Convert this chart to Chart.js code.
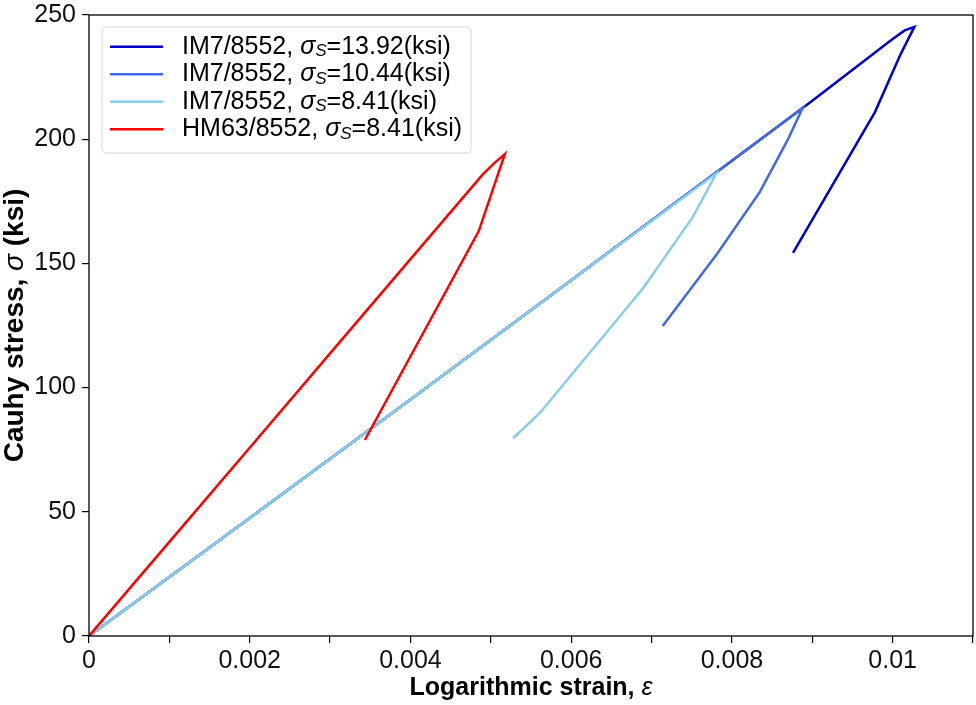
<!DOCTYPE html>
<html>
<head>
<meta charset="utf-8">
<script src="https://cdn.jsdelivr.net/npm/chart.js@4.4.1/dist/chart.umd.min.js"></script>
<style>
  html, body { margin: 0; padding: 0; background: #ffffff; }
  #wrap { width: 976px; height: 705px; }
</style>
</head>
<body>
<div id="wrap"><canvas id="c" width="976" height="705"></canvas></div>
<script>
// Stress-strain loading / unloading paths (strain, Cauhy stress in ksi)
const materials = ['IM7/8552', 'IM7/8552', 'IM7/8552', 'HM63/8552'];
const sigmaS = ['13.92', '10.44', '8.41', '8.41'];
const colors = ['#0000CD', '#4169E1', '#87CEEB', '#FF0000'];

const im7HighStrain = [0, 0.002, 0.004, 0.006, 0.008, 0.009, 0.0100, 0.01015, 0.01027, 0.01009, 0.00978, 0.00876];
const im7HighStress = [0, 47.5, 95.2, 143.2, 191.3, 215.5, 240.3, 243.8, 245.2, 233.6, 210.9, 154.2];

const im7MidStrain = [0, 0.002, 0.004, 0.006, 0.008, 0.00888, 0.008694, 0.008346, 0.007823, 0.007139];
const im7MidStress = [0, 47.5, 95.2, 143.2, 191.3, 212.6, 199.7, 178.7, 154.2, 124.8];

const im7LowStrain = [0, 0.002, 0.004, 0.006, 0.007807, 0.007516, 0.006894, 0.00561, 0.005277];
const im7LowStress = [0, 47.5, 95.2, 143.2, 186.3, 168.8, 140.0, 89.8, 79.6];

const hm63Strain = [0, 0.001, 0.002, 0.003, 0.004, 0.0049, 0.00505, 0.005174, 0.00485, 0.003433];
const hm63Stress = [0, 37.9, 75.8, 113.8, 151.7, 185.8, 190.6, 194.0, 163.0, 78.9];

// Axis ranges and tick steps
const xMin = 0, xMax = 0.011, xStep = 0.001;
const yMin = 0, yMax = 250, yStep = 50;

function toPoints(xs, ys) {
  return xs.map((x, i) => ({ x: x, y: ys[i] }));
}

const series = [
  [im7HighStrain, im7HighStress],
  [im7MidStrain, im7MidStress],
  [im7LowStrain, im7LowStress],
  [hm63Strain, hm63Stress]
];

const datasets = series.map((s, i) => ({
  label: materials[i] + ', σS=' + sigmaS[i] + '(ksi)',
  data: toPoints(s[0], s[1]),
  borderColor: colors[i],
  backgroundColor: colors[i],
  borderWidth: 2.5,
  showLine: true,
  pointRadius: 0,
  tension: 0,
  fill: false,
  order: series.length - i
}));

const FONT = '"Liberation Sans", Arial, Helvetica, sans-serif';

// draws a run of differently styled text pieces starting at x
function drawRuns(ctx, x, y, runs) {
  let cx = x;
  runs.forEach(r => {
    ctx.font = r.font;
    ctx.fillText(r.text, cx, y + (r.dy || 0));
    cx += ctx.measureText(r.text).width;
  });
  return cx;
}
function runsWidth(ctx, runs) {
  let w = 0;
  runs.forEach(r => { ctx.font = r.font; w += ctx.measureText(r.text).width; });
  return w;
}

const framePlugin = {
  id: 'frame',
  afterDatasetsDraw(chart) {
    const ctx = chart.ctx, a = chart.chartArea;
    ctx.save();
    ctx.strokeStyle = '#000';
    ctx.lineWidth = 1.3;
    ctx.strokeRect(a.left, a.top, a.right - a.left, a.bottom - a.top);
    ctx.restore();
  }
};

const titlesPlugin = {
  id: 'axisTitles',
  afterDraw(chart) {
    const ctx = chart.ctx, a = chart.chartArea;
    ctx.save();
    ctx.fillStyle = '#000';
    ctx.textBaseline = 'middle';
    // x title
    const xr = [
      { text: 'Logarithmic strain, ', font: 'bold 25px ' + FONT },
      { text: 'ε', font: 'italic 25px ' + FONT }
    ];
    const xw = runsWidth(ctx, xr);
    drawRuns(ctx, (a.left + a.right) / 2 - xw / 2, 688, xr);
    // y title
    const yr = [
      { text: 'Cauhy stress, ', font: 'bold 28px ' + FONT },
      { text: 'σ', font: 'italic 28px ' + FONT },
      { text: ' (ksi)', font: 'bold 28px ' + FONT }
    ];
    const yw = runsWidth(ctx, yr);
    ctx.translate(15, (a.top + a.bottom) / 2);
    ctx.rotate(-Math.PI / 2);
    drawRuns(ctx, -yw / 2, 0, yr);
    ctx.restore();
  }
};

const legendPlugin = {
  id: 'richLegend',
  afterDraw(chart) {
    const ctx = chart.ctx;
    const bx = 102, by = 27, bw = 369, bh = 126, r = 4;
    ctx.save();
    ctx.beginPath();
    ctx.moveTo(bx + r, by);
    ctx.arcTo(bx + bw, by, bx + bw, by + bh, r);
    ctx.arcTo(bx + bw, by + bh, bx, by + bh, r);
    ctx.arcTo(bx, by + bh, bx, by, r);
    ctx.arcTo(bx, by, bx + bw, by, r);
    ctx.closePath();
    ctx.fillStyle = 'rgba(255,255,255,0.85)';
    ctx.fill();
    ctx.strokeStyle = '#d6d6d6';
    ctx.lineWidth = 1;
    ctx.stroke();
    const rowY = [46.7, 74.2, 101.7, 129.3];
    ctx.textBaseline = 'middle';
    materials.forEach((m, i) => {
      const y = rowY[i];
      ctx.strokeStyle = colors[i];
      ctx.lineWidth = 2.5;
      ctx.beginPath();
      ctx.moveTo(110, y);
      ctx.lineTo(163, y);
      ctx.stroke();
      ctx.fillStyle = '#000';
      drawRuns(ctx, 182, y, [
        { text: m + ', ', font: '25px ' + FONT },
        { text: 'σ', font: 'italic 25px ' + FONT },
        { text: 'S', font: 'italic 17px ' + FONT, dy: 5 },
        { text: '=' + sigmaS[i] + '(ksi)', font: '25px ' + FONT }
      ]);
    });
    ctx.restore();
  }
};

new Chart(document.getElementById('c'), {
  type: 'scatter',
  data: { datasets: datasets },
  options: {
    responsive: false,
    animation: false,
    devicePixelRatio: 1,
    layout: { padding: { top: 15, right: 3, left: 0, bottom: 0 } },
    plugins: { legend: { display: false }, tooltip: { enabled: false } },
    scales: {
      x: {
        type: 'linear',
        min: xMin, max: xMax,
        afterFit(scale) {
          scale.height = 69;
          scale.paddingLeft = 0;
          scale.paddingRight = 0;
        },
        border: { display: false },
        grid: { drawOnChartArea: false, drawTicks: true, tickLength: 7, tickColor: '#000', lineWidth: 1.2 },
        ticks: {
          stepSize: xStep,
          autoSkip: false,
          maxRotation: 0,
          padding: 3,
          color: '#111',
          font: { family: FONT, size: 25 },
          callback(v) {
            const k = Math.round(v / xStep);
            if (k % 2 !== 0 || v > 0.0105) return '';
            return String(Number(v.toFixed(4)));
          }
        }
      },
      y: {
        type: 'linear',
        min: yMin, max: yMax,
        afterFit(scale) {
          scale.width = 89;
          scale.paddingTop = 0;
          scale.paddingBottom = 0;
        },
        border: { display: false },
        grid: { drawOnChartArea: false, drawTicks: true, tickLength: 7, tickColor: '#000', lineWidth: 1.2 },
        ticks: {
          stepSize: yStep,
          padding: 6,
          color: '#111',
          font: { family: FONT, size: 25 }
        }
      }
    }
  },
  plugins: [framePlugin, titlesPlugin, legendPlugin]
});
</script>
</body>
</html>
